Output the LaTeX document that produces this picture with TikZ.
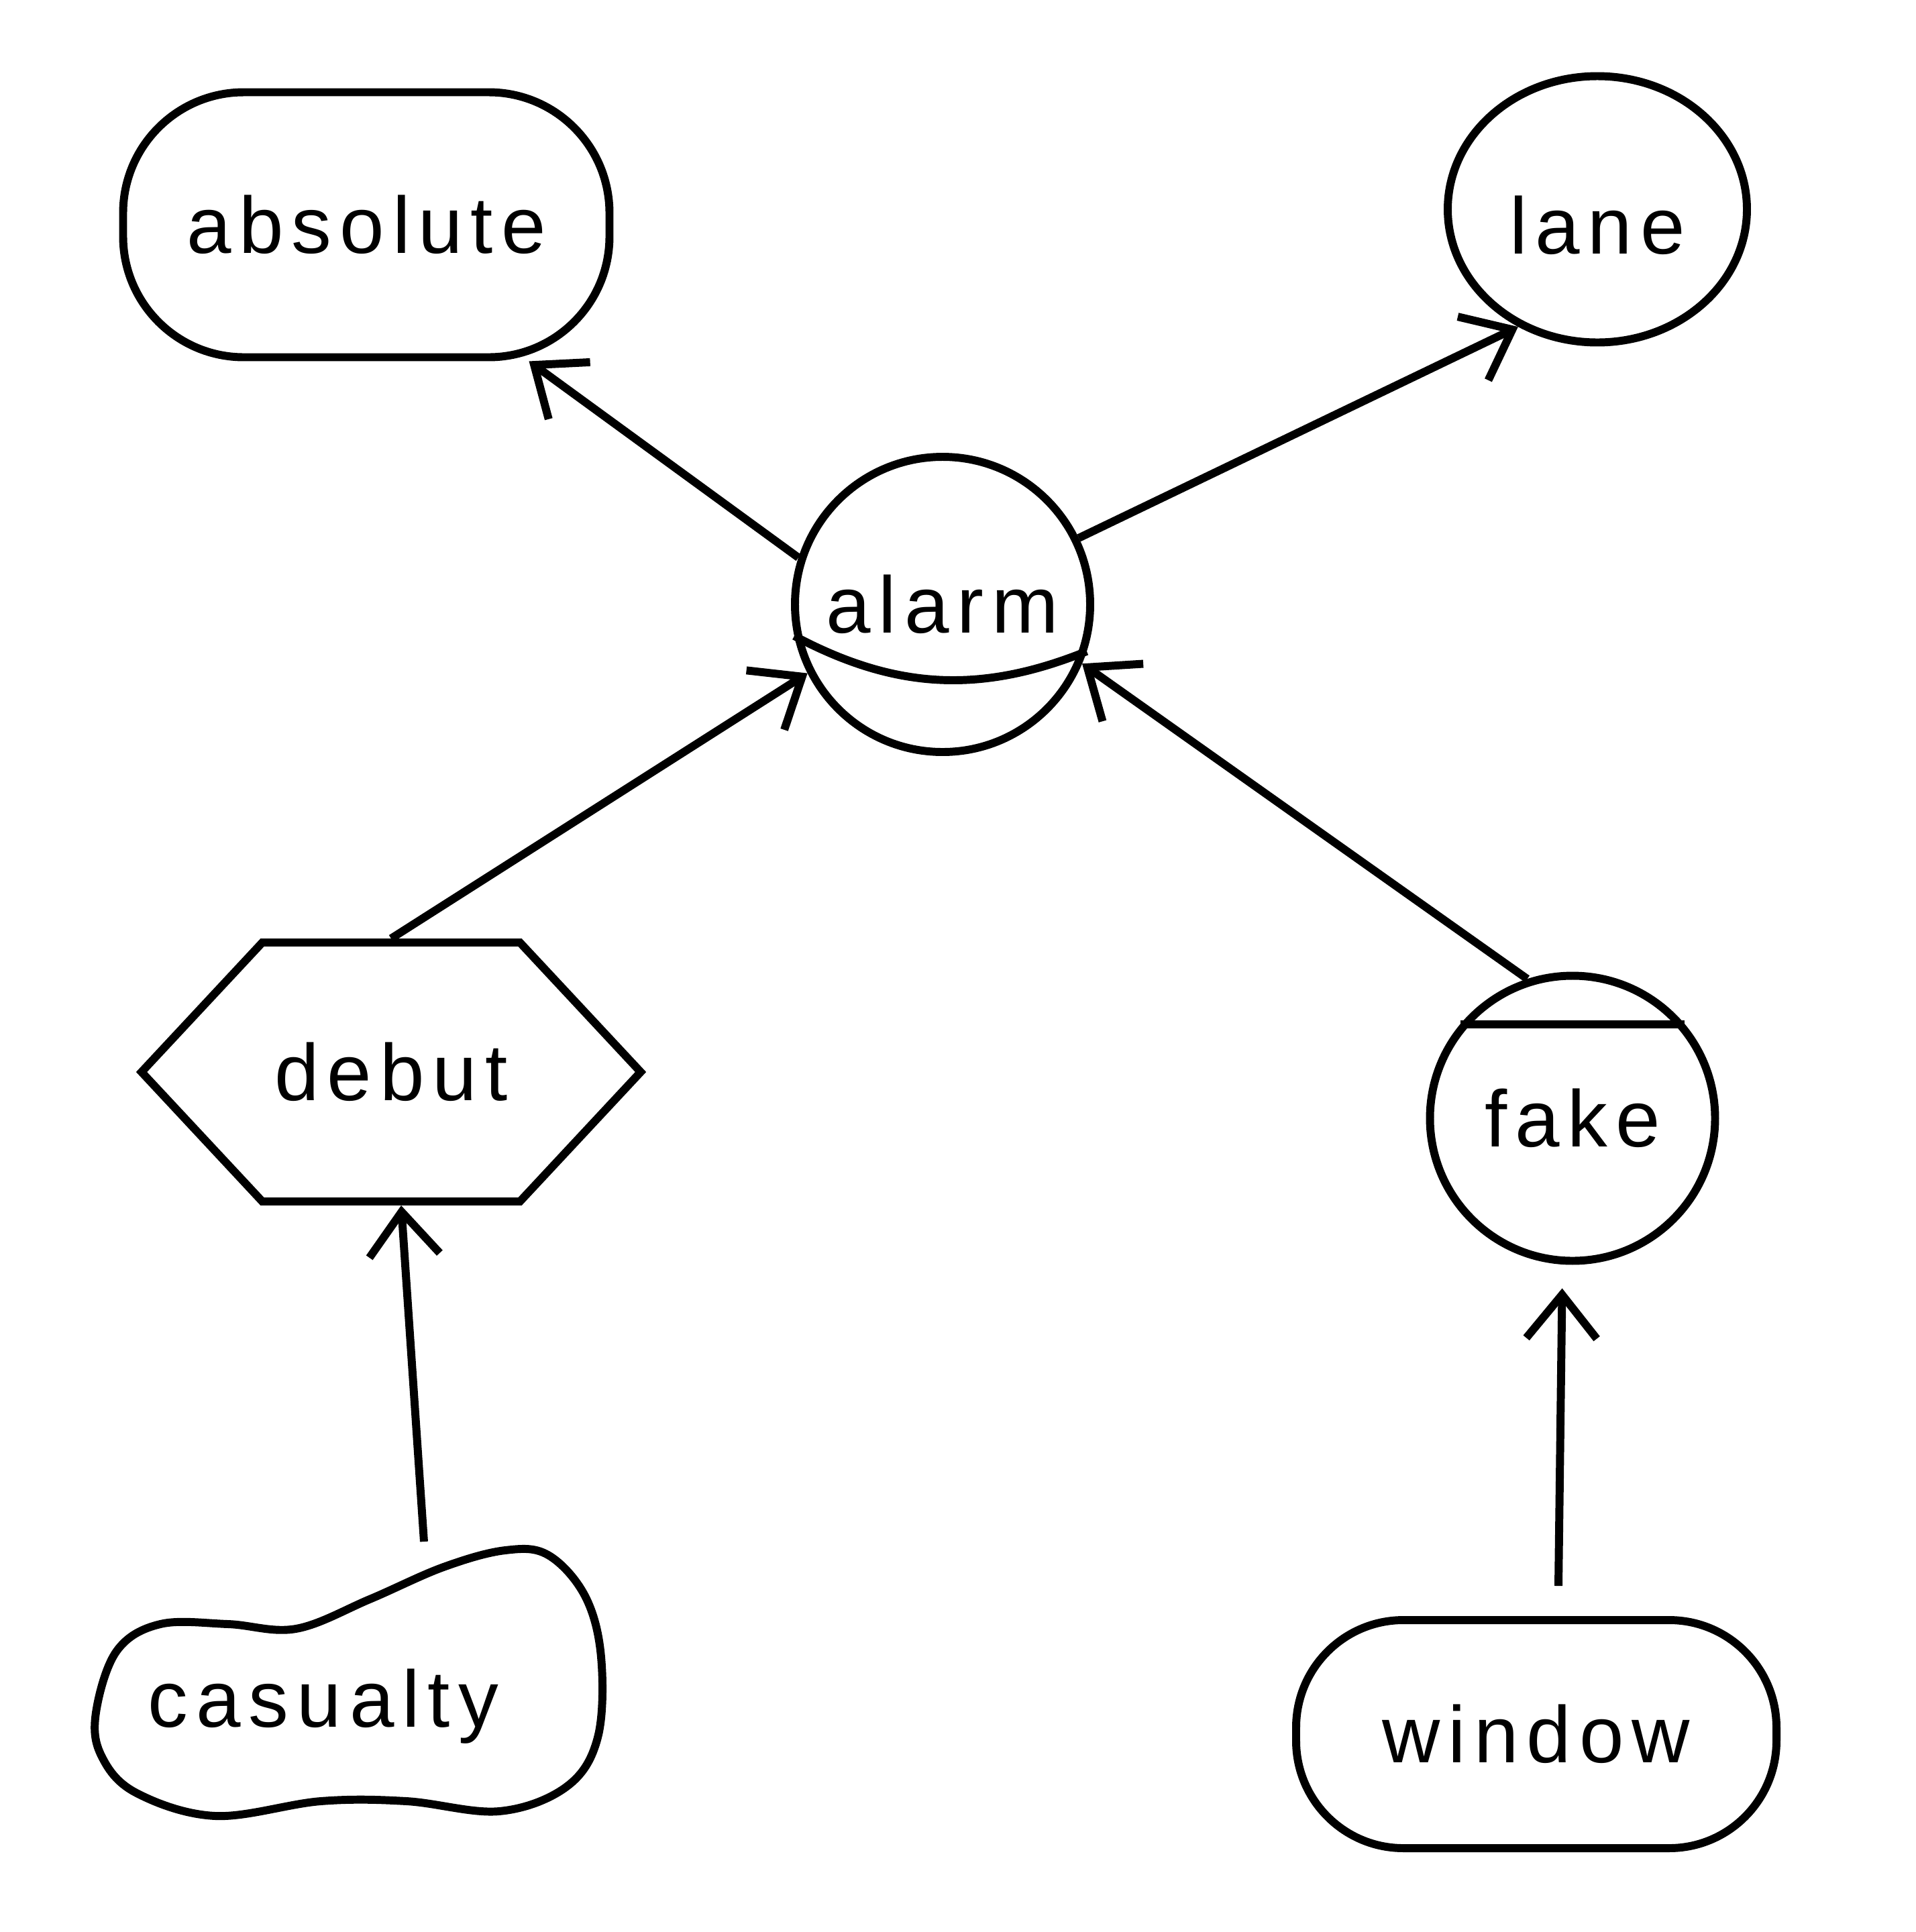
\documentclass[tikz,border=0pt]{standalone}
\usepackage{fontspec}
\setmainfont{Liberation Sans}[LetterSpace=10]
\usepackage{tikz}
\usetikzlibrary{shapes.geometric, shapes.symbols, arrows.meta, calc}

\begin{document}
\begin{tikzpicture}[
    base/.style = {
        draw, line width=3.4pt, inner sep=0pt,
        font=\fontsize{34}{40}\selectfont, text=black
    },
    oval/.style      = {base, rectangle, rounded corners=1.8cm},
    roundnode/.style = {base, circle},
    egg/.style       = {base, ellipse},
    hexnode/.style   = {base, signal, signal to=west and east, signal pointer angle=94},
    plain/.style     = {base, draw=none},
    chord/.style     = {line width=3.4pt},
    arr/.style = {-{Straight Barb[length=0.65cm, width=1.05cm]}, line width=3.4pt, black}
]
\useasboundingbox (0,0) rectangle (28.56,-28.8);

\node[oval, minimum width=7.25cm, minimum height=3.95cm] (absolute) at (5.46,-3.35) {absolute};
\node[egg, minimum width=4.46cm, minimum height=3.97cm, text height=1.32cm, text depth=0pt] (lane) at (23.81,-3.12) {lane};
\node[roundnode, minimum size=4.4cm]                     (alarm)    at (14.05,-9.01) {alarm};
\node[hexnode, minimum width=7.44cm, minimum height=3.86cm] (debut) at (5.83,-15.98) {debut};
\node[roundnode, minimum size=4.25cm]                    (fake)     at (23.44,-16.67) {fake};
\node[plain, minimum width=7.6cm, minimum height=4.8cm]  (casualty) at (4.82,-25.44) {casualty};
\node[oval, rounded corners=1.6cm, minimum width=7.16cm, minimum height=3.4cm] (window) at (22.90,-25.85) {window};

% outline of the casualty blob
\draw[chord, shift={([xshift=0.35cm, yshift=0.37cm]casualty.center)}]
    plot[smooth cycle, tension=0.6] coordinates {
    (-3.74,-0.46) (-3.43,0.46) (-2.78,0.86) (-1.77,0.86) (-0.76,0.79)
    (0.34,1.23) (1.44,1.71) (2.36,1.96) (3.00,1.89) (3.55,1.28)
    (3.79,0.37) (3.74,-0.83) (3.28,-1.56) (2.27,-1.93) (0.89,-1.78)
    (-0.39,-1.78) (-1.96,-2.00) (-3.15,-1.65) (-3.66,-1.10)};

% strokes across the circles
\draw[chord] (alarm.192) to[bend right=25] (alarm.-18);
\draw[chord] (fake.140) -- (fake.40);

\draw[arr] (alarm.162) -- (absolute.-40);
\draw[arr] (alarm.26) -- (lane.236);
\draw[arr] (debut.north) -- (alarm.207);
\draw[arr] (fake.108) -- (alarm.-23);
\draw[arr] ([xshift=1.5cm]casualty.north) -- ([xshift=0.15cm]debut.south);
\draw[arr, shorten >=0.35cm] ([xshift=0.33cm, yshift=0.45cm]window.north) -- ([xshift=-0.15cm]fake.south);
\end{tikzpicture}
\end{document}
